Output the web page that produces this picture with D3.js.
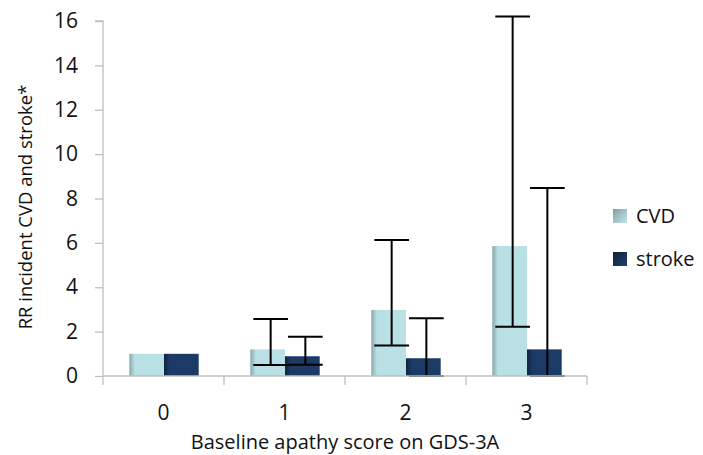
<!DOCTYPE html>
<html><head><meta charset="utf-8">
<script src="https://cdn.jsdelivr.net/npm/d3@7"></script>
<style>body{margin:0;background:#fff}svg{display:block}text{font-family:"Open Sans",sans-serif;fill:#111}</style>
</head><body>
<svg id="c" width="703" height="455"></svg>
<script>
const categories = ["0","1","2","3"];
const seriesNames = ["CVD","stroke"];
const cvdValues = [1.0, 1.2, 2.98, 5.86];
const strokeValues = [1.0, 0.89, 0.8, 1.2];
const cvdLower = [null, 0.5, 1.38, 2.22];
const cvdUpper = [null, 2.57, 6.13, 16.2];
const strokeLower = [null, 0.51, 0.0, 0.0];
const strokeUpper = [null, 1.77, 2.6, 8.47];
const yTicks = [0,2,4,6,8,10,12,14,16];
const yTitle = "RR incident CVD and stroke*";
const xTitle = "Baseline apathy score on GDS-3A";

const svg = d3.select("#c");
const pL = 103, pR = 587, pT = 21, pB = 376;
const x = d3.scaleBand().domain(categories).range([pL, pR]).padding(0);
const barW = 34.7;
const xs = d3.scaleBand().domain(seriesNames)
  .range([x.bandwidth()/2 - barW + 0.5, x.bandwidth()/2 + barW + 0.5]).padding(0);
const y = d3.scaleLinear().domain([0,16]).range([pB, pT]);

const defs = svg.append("defs");
function grad(id, dark, main) {
  const g = defs.append("linearGradient").attr("id", id).attr("x1","0").attr("x2","1").attr("y1","0").attr("y2","0");
  g.append("stop").attr("offset","0%").attr("stop-color", dark);
  g.append("stop").attr("offset","16%").attr("stop-color", main);
  g.append("stop").attr("offset","100%").attr("stop-color", main);
}
grad("gCVD", "#8ba7aa", "#b9e0e4");
grad("gstroke", "#12233d", "#1b3a66");
const fills = {CVD: "url(#gCVD)", stroke: "url(#gstroke)"};
function lgrad(id, dark, main) {
  const g = defs.append("linearGradient").attr("id", id).attr("x1","0").attr("x2","1").attr("y1","0").attr("y2","1");
  g.append("stop").attr("offset","0%").attr("stop-color", dark);
  g.append("stop").attr("offset","100%").attr("stop-color", main);
}
lgrad("lgCVD", "#7f9fa3", "#c4e6ea");
lgrad("lgstroke", "#0f1f38", "#1f4373");
const lfills = {CVD: "url(#lgCVD)", stroke: "url(#lgstroke)"};

// axes
const yAxis = d3.axisLeft(y).tickValues(yTicks).tickSize(8).tickPadding(17).tickFormat(d3.format("d"));
const gy = svg.append("g").attr("transform", `translate(${pL},0)`).call(yAxis);
gy.select(".domain").attr("stroke", "#bfbfbf").attr("stroke-width", 1.3).attr("d", `M-8,${pT}H0V${pB}`);
gy.selectAll(".tick line").attr("stroke", "#bfbfbf").attr("stroke-width", 1.3);
gy.selectAll(".tick text").attr("font-size", 21).attr("fill", "#111").attr("font-family", '"Open Sans",sans-serif');

const data = categories.map((c, i) => ({
  cat: c,
  vals: [
    {s: "CVD", v: cvdValues[i], lo: cvdLower[i], hi: cvdUpper[i]},
    {s: "stroke", v: strokeValues[i], lo: strokeLower[i], hi: strokeUpper[i]}
  ]
}));

const groups = svg.selectAll(".grp").data(data).join("g").attr("class","grp")
  .attr("transform", d => `translate(${x(d.cat)},0)`);
groups.selectAll("rect").data(d => d.vals).join("rect")
  .attr("x", d => xs(d.s)).attr("width", xs.bandwidth())
  .attr("y", d => y(d.v)).attr("height", d => y(0) - y(d.v))
  .attr("fill", d => fills[d.s]);

// x axis line with boundary ticks
const gx = svg.append("g");
gx.append("line").attr("x1", pL).attr("x2", pR).attr("y1", pB).attr("y2", pB)
  .attr("stroke", "#bfbfbf").attr("stroke-width", 1.3);
const bounds = categories.map(c => x(c)).concat([x(categories[categories.length-1]) + x.bandwidth()]);
gx.selectAll(".bt").data(bounds).join("line").attr("class","bt")
  .attr("x1", d => d).attr("x2", d => d).attr("y1", pB).attr("y2", pB + 9)
  .attr("stroke", "#bfbfbf").attr("stroke-width", 1.3);
gx.selectAll(".xl").data(categories).join("text").attr("class","xl")
  .attr("x", d => x(d) + x.bandwidth()/2).attr("y", 420)
  .attr("text-anchor", "middle").attr("font-size", 21).text(d => d);

// error bars
const eb = groups.selectAll(".eb").data(d => d.vals.filter(v => v.hi != null)).join("g").attr("class","eb")
  .attr("transform", d => `translate(${xs(d.s) + xs.bandwidth()/2 + 3},0)`);
eb.append("line").attr("x1",0).attr("x2",0).attr("y1", d => y(d.lo)).attr("y2", d => y(d.hi))
  .attr("stroke","#000").attr("stroke-width",2);
eb.selectAll(".cap").data(d => [d.lo, d.hi]).join("line").attr("class","cap")
  .attr("x1", -barW/2).attr("x2", barW/2).attr("y1", d => y(d)).attr("y2", d => y(d))
  .attr("stroke","#000").attr("stroke-width",2);

// titles
svg.append("text").attr("transform", `translate(32,207) rotate(-90)`)
  .attr("text-anchor","middle").attr("font-size", 18.5).text(yTitle);
svg.append("text").attr("x", 345).attr("y", 449).attr("text-anchor","middle").attr("font-size", 20).text(xTitle);

// legend
const lg = svg.append("g").selectAll("g").data(seriesNames).join("g")
  .attr("transform", (d,i) => `translate(613,${209 + i*43})`);
lg.append("rect").attr("width", 14).attr("height", 14).attr("fill", d => lfills[d]);
lg.append("text").attr("x", 23).attr("y", 14).attr("font-size", 20).text(d => d);
</script>
</body></html>
